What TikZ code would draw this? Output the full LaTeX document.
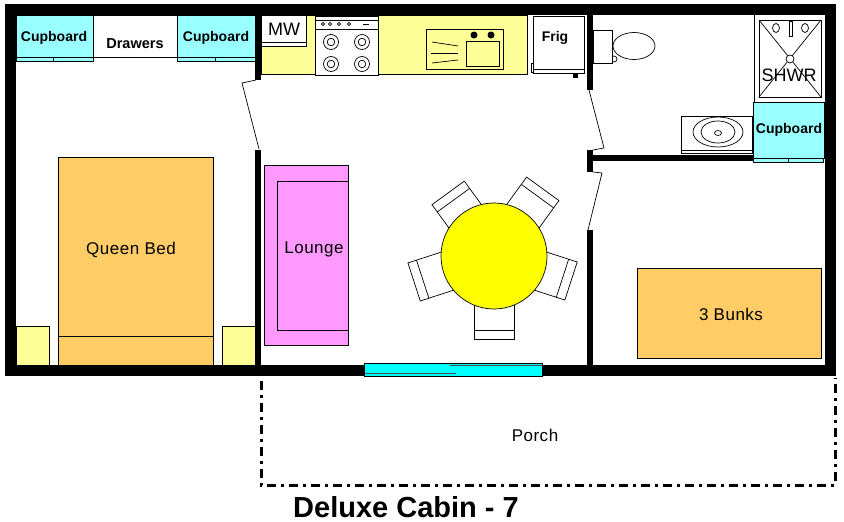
\documentclass[tikz,border=0pt]{standalone}
\usepackage{fontspec}
\setmainfont{Liberation Sans}
\definecolor{cupcyan}{RGB}{153,255,255}
\definecolor{benchyellow}{RGB}{255,255,153}
\definecolor{bedorange}{RGB}{255,204,102}
\definecolor{loungepink}{RGB}{255,153,255}
\definecolor{glasscyan}{RGB}{0,255,255}
\definecolor{tableyellow}{RGB}{255,255,0}
\tikzset{
  wall/.style={fill=black,draw=none},
  unit/.style={draw=black,line width=0.8pt},
  thin line/.style={draw=black,line width=0.7pt},
  label text/.style={inner sep=0pt,font=\fontsize{17}{19}\selectfont\addfontfeatures{LetterSpace=3}},
  cup text/.style={inner sep=0pt,font=\fontsize{14}{16}\selectfont\bfseries},
}

\begin{document}
\begin{tikzpicture}[x=1pt,y=-1pt]
\useasboundingbox (0,0) rectangle (844,522);

% outer walls
\filldraw[wall] (5,4) rectangle (836,15);
\filldraw[wall] (5,365) rectangle (836,376);
\filldraw[wall] (5,4) rectangle (16,376);
\filldraw[wall] (825,4) rectangle (836,376);

% inner walls
\filldraw[wall] (255,15) rectangle (261,80);
\filldraw[wall] (255,150) rectangle (261,365);
\filldraw[wall] (587,15) rectangle (593,90);
\filldraw[wall] (587,150) rectangle (593,172);
\filldraw[wall] (587,230) rectangle (593,365);
\filldraw[wall] (593,155) rectangle (755,161);

% doors
\draw[thin line] (256,80) -- (242,83) -- (259,149);
\draw[thin line] (589,90) -- (604,148) -- (593,150);
\draw[thin line] (593,172) -- (602,173) -- (588,230);

% bedroom cupboards
\filldraw[unit,fill=cupcyan] (16,15) rectangle (93,57);
\filldraw[unit,fill=cupcyan] (16,57) rectangle (93,61);
\draw[unit] (53,57) -- (53,61);
\filldraw[unit,fill=white] (93,15) rectangle (177,57);
\filldraw[unit,fill=cupcyan] (177,15) rectangle (255,57);
\filldraw[unit,fill=cupcyan] (177,57) rectangle (255,61);
\draw[unit] (215,57) -- (215,61);
\node[cup text] (cupA) at (54,38) {Cupboard};
\node[cup text,font=\fontsize{14.5}{16}\selectfont\bfseries] (drawers) at (135,44) {Drawers};
\node[cup text] (cupB) at (216,38) {Cupboard};

% bed and side tables
\filldraw[unit,fill=bedorange] (58,157) rectangle (213,365);
\draw[unit] (58,336) -- (213,336);
\filldraw[unit,fill=benchyellow] (16,326) rectangle (49,365);
\filldraw[unit,fill=benchyellow] (222,326) rectangle (255,365);
\node[label text] (bed) at (131,250) {Queen Bed};

% kitchen bench
\filldraw[unit,fill=benchyellow] (261,15) rectangle (527,74);
\filldraw[unit,fill=white] (261,15) rectangle (306,46);
\draw[unit] (261,42) -- (306,42);
\node[label text,font=\fontsize{18}{20}\selectfont] (mw) at (284,29) {MW};

% stove
\filldraw[unit,fill=white] (315,16) rectangle (378,75);
\draw[unit] (315,20) -- (378,20);
\draw[unit] (315,29) -- (378,29);
\foreach \px in {323,330,339,349} {
  \draw[thin line] (\px,24) circle (1.6);
}
\draw[thin line] (363,24) -- (369,24);
\foreach \px in {331,362} {
  \foreach \py in {42,64} {
    \draw[thin line] (\px,\py) circle (7.5);
    \draw[thin line] (\px,\py) circle (3.8);
  }
}

% sink
\draw[unit] (426,29) rectangle (503,69);
\draw[unit] (466,41) rectangle (499,66);
\fill (474,35) circle (3.5);
\fill (491,35) circle (3.5);
\draw[thin line] (432,42) -- (458,46);
\draw[thin line] (431,53) -- (458,53);
\draw[thin line] (432,63) -- (458,60);

% frig
\filldraw[unit,fill=white] (531,63) rectangle (534,72);
\filldraw[unit,fill=white] (533,16) rectangle (584,69);
\filldraw[unit,fill=white] (533,69) rectangle (584,73);
\fill (573,73) rectangle (578,78);
\node[cup text] (frig) at (555,38) {Frig};

% toilet
\draw[thin line] (614,59) circle (3);
\filldraw[thin line,fill=white] (593,30) rectangle (612,63);
\draw[thin line] (634,46) ellipse (21 and 13.5);

% shower
\draw[thin line] (754,15) -- (754,102);
\draw[unit] (759,20) rectangle (821,97);
\draw[thin line] (759,20) -- (821,97);
\draw[thin line] (821,20) -- (759,97);
\filldraw[thin line,fill=white] (790,59) circle (4);
\draw[thin line] (776,28) ellipse (3.5 and 4.5);
\draw[thin line] (805,28) ellipse (3.5 and 4.5);
\filldraw[thin line,fill=white] (789,21) rectangle (792,36);
\node[label text,font=\fontsize{18}{20}\selectfont] (shwr) at (789,75) {SHWR};

% bathroom cupboard and basin
\filldraw[unit,fill=cupcyan] (753,102) rectangle (824,158);
\filldraw[unit,fill=cupcyan] (753,158) rectangle (823,162);
\draw[unit] (788,158) -- (788,162);
\node[cup text] (cupC) at (789,130) {Cupboard};
\filldraw[thin line,fill=white] (681,116) rectangle (752,153);
\draw[thin line] (681,150) -- (752,150);
\draw[thin line] (718,132) ellipse (25 and 15);
\draw[thin line] (718,132) ellipse (17 and 11);
\draw[thin line] (718,133) ellipse (3.5 and 2.5);

% lounge
\filldraw[unit,fill=loungepink] (264,165) rectangle (348,345);
\draw[unit] (348,181) -- (277,181) -- (277,330) -- (348,330);
\node[label text] (lounge) at (314,249) {Lounge};

% chairs and table
\coordinate (TC) at (494,256);
\foreach \ang/\len in {0/83,72/81,144/83,216/78,288/84} {
  \begin{scope}[shift={(TC)},rotate=\ang]
    \filldraw[thin line,fill=white] (-20,40) rectangle (20,\len);
    \draw[thin line] (-20,\len-9) -- (20,\len-9);
  \end{scope}
}
\filldraw[thin line,fill=tableyellow] (TC) circle (53);

% window
\filldraw[thin line,fill=glasscyan] (364,363) rectangle (542,376);
\draw[draw=black!70,line width=0.6pt] (450,365) -- (542,365);
\draw[draw=black!70,line width=0.6pt] (365,373) -- (456,373);

% porch
\draw[line width=3pt,dash pattern=on 9pt off 5pt on 3pt off 5pt] (261,381) -- (261,485) -- (835,485) -- (835,378);
\node[label text] (porch) at (535,435) {Porch};

\filldraw[unit,fill=bedorange] (637,268) rectangle (821,358);
\node[label text] (bunks) at (731,314) {3 Bunks};

\node[inner sep=0pt,font=\fontsize{29}{31}\selectfont\bfseries] (title) at (406,507) {Deluxe Cabin - 7};

\end{tikzpicture}
\end{document}
